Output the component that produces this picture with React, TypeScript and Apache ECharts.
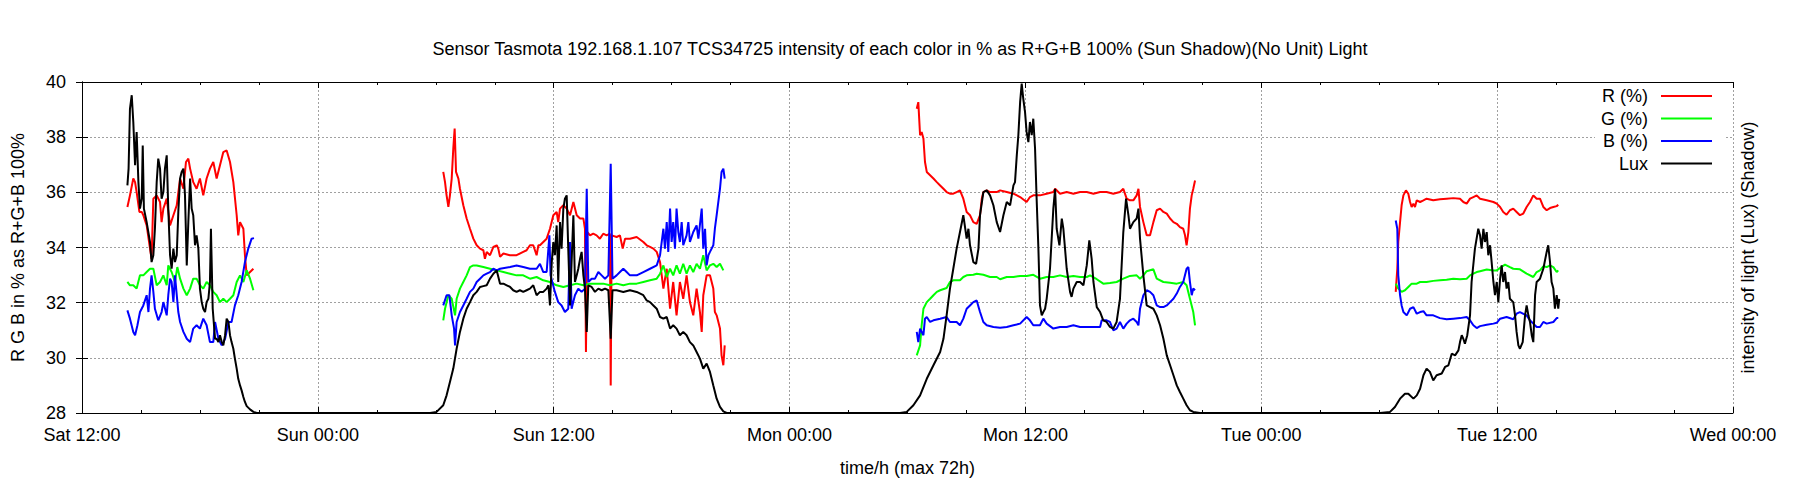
import React, { useEffect, useRef } from 'react'
import * as echarts from 'echarts'

type Pt = [number, number | null]

// x = hours since Sat 12:00, y = percent of R+G+B
const tickLabels = ['Sat 12:00', 'Sun 00:00', 'Sun 12:00', 'Mon 00:00', 'Mon 12:00', 'Tue 00:00', 'Tue 12:00', 'Wed 00:00']
const seriesNames = ['R (%)', 'G (%)', 'B (%)', 'Lux']

const redSat: Pt[] = [
    [2.31, 35.47], [2.44, 35.89], [2.61, 36.5], [2.7, 36.37], [2.78, 36.01], [2.92, 35.29], [3.04, 35.29], [3.12, 35.17],
    [3.29, 34.8], [3.46, 33.96], [3.54, 33.59], [3.63, 35.77], [3.8, 35.89], [3.97, 35.65], [4.05, 34.92], [4.14, 35.41],
    [4.31, 35.77], [4.48, 34.8], [4.65, 35.17], [4.82, 35.53], [4.99, 36.5], [5.16, 36.13], [5.29, 37.1], [5.41, 37.22],
    [5.5, 36.86], [5.66, 36.37], [5.83, 36.13], [6.0, 36.5], [6.17, 35.89], [6.34, 36.5], [6.51, 36.86], [6.68, 37.1],
    [6.85, 36.5], [7.02, 36.98], [7.19, 37.46], [7.36, 37.52], [7.53, 37.1], [7.7, 36.37], [7.87, 35.17], [7.95, 34.44],
    [8.04, 34.92], [8.21, 34.68], [8.29, 33.72], [8.38, 32.99], [8.55, 33.11], [8.72, 33.23],
]
const greenSat: Pt[] = [
    [2.31, 32.75], [2.44, 32.63], [2.61, 32.63], [2.78, 32.51], [2.95, 32.99], [3.12, 32.99], [3.29, 33.11], [3.46, 33.23],
    [3.63, 33.23], [3.8, 32.63], [3.97, 32.75], [4.14, 32.99], [4.31, 32.63], [4.39, 33.35], [4.56, 33.11], [4.73, 32.75],
    [4.85, 33.29], [4.99, 32.87], [5.16, 32.51], [5.33, 32.27], [5.5, 32.51], [5.66, 32.87], [5.83, 32.87], [6.0, 32.63],
    [6.17, 32.51], [6.34, 32.75], [6.51, 32.63], [6.68, 32.39], [6.85, 32.27], [7.02, 32.02], [7.19, 32.14], [7.36, 32.02],
    [7.53, 32.14], [7.7, 32.27], [7.87, 32.75], [8.04, 32.99], [8.21, 32.75], [8.38, 33.17], [8.55, 32.87], [8.72, 32.45],
]
const blueSat: Pt[] = [
    [2.31, 31.72], [2.44, 31.42], [2.61, 30.94], [2.7, 30.82], [2.82, 31.18], [2.95, 31.66], [3.12, 31.9], [3.29, 32.27],
    [3.38, 31.66], [3.46, 32.51], [3.54, 32.99], [3.63, 32.39], [3.71, 31.78], [3.88, 31.36], [4.05, 31.66], [4.14, 32.02],
    [4.31, 31.54], [4.39, 32.27], [4.48, 32.87], [4.56, 32.75], [4.65, 32.02], [4.73, 32.99], [4.9, 31.66], [4.99, 31.3],
    [5.16, 30.94], [5.33, 30.69], [5.5, 30.57], [5.66, 31.06], [5.83, 31.18], [6.0, 31.06], [6.17, 31.42], [6.34, 31.18],
    [6.51, 30.57], [6.68, 30.57], [6.77, 31.3], [6.94, 30.69], [7.11, 30.45], [7.28, 30.69], [7.45, 31.3], [7.61, 31.3],
    [7.78, 31.9], [7.95, 32.27], [8.12, 32.75], [8.29, 33.47], [8.46, 33.96], [8.63, 34.32], [8.75, 34.34],
]

const redSun: Pt[] = [
    [18.38, 36.74], [18.47, 36.37], [18.55, 35.89], [18.64, 35.47], [18.72, 35.89], [18.81, 36.5], [18.89, 37.58], [18.96, 38.31],
    [19.03, 36.74], [19.15, 36.5], [19.23, 36.13], [19.4, 35.53], [19.57, 35.05], [19.74, 34.68], [19.91, 34.32], [20.08, 34.08],
    [20.25, 33.96], [20.42, 33.9], [20.5, 33.59], [20.59, 33.84], [20.76, 33.72], [20.93, 34.02], [21.1, 34.08], [21.18, 33.96],
    [21.27, 33.66], [21.44, 33.78], [21.77, 33.72], [22.11, 33.72], [22.45, 33.84], [22.62, 33.9], [22.79, 34.08], [22.96, 34.08],
    [23.13, 33.72], [23.22, 34.08], [23.3, 34.08], [23.47, 34.2], [23.64, 34.32], [23.81, 34.68], [23.98, 35.17], [24.15, 35.29],
    [24.23, 34.92], [24.32, 35.41], [24.49, 35.53], [24.66, 35.41], [24.83, 35.17], [25.0, 35.65], [25.17, 35.17], [25.34, 35.05],
    [25.51, 35.05], [25.59, 34.68], [25.64, 30.21], [25.71, 34.56], [25.85, 34.44], [26.01, 34.5], [26.18, 34.44], [26.35, 34.32],
    [26.52, 34.5], [26.69, 34.44], [26.86, 34.5], [26.9, 29.0], [26.95, 34.44], [27.2, 34.38], [27.37, 34.44], [27.51, 33.96],
    [27.63, 34.32], [27.88, 34.32], [28.22, 34.38], [28.56, 34.2], [28.73, 34.08], [28.9, 34.02], [29.07, 33.96], [29.24, 33.84],
    [29.41, 33.47], [29.58, 32.51], [29.75, 33.23], [29.92, 31.78], [30.08, 32.75], [30.25, 31.54], [30.42, 32.75], [30.59, 32.14],
    [30.76, 32.99], [30.93, 32.02], [31.1, 31.54], [31.27, 32.51], [31.44, 31.66], [31.53, 30.94], [31.61, 32.27], [31.78, 32.99],
    [31.95, 32.99], [32.12, 32.51], [32.2, 31.66], [32.29, 31.54], [32.46, 31.06], [32.54, 30.09], [32.63, 29.73], [32.7, 30.45],
]
const greenSun: Pt[] = [
    [18.38, 31.36], [18.47, 31.78], [18.64, 32.27], [18.81, 32.14], [18.98, 31.54], [19.06, 32.14], [19.23, 32.51], [19.4, 32.75],
    [19.57, 32.99], [19.74, 33.29], [19.91, 33.35], [20.08, 33.35], [20.42, 33.29], [20.76, 33.23], [21.1, 33.17], [21.44, 33.11],
    [21.78, 33.05], [22.11, 32.99], [22.45, 32.99], [22.79, 32.87], [23.13, 32.93], [23.47, 32.81], [23.81, 32.75], [24.15, 32.63],
    [24.49, 32.57], [24.83, 32.63], [25.17, 32.69], [25.51, 32.63], [25.85, 32.69], [26.18, 32.69], [26.52, 32.69], [26.86, 32.63],
    [27.2, 32.69], [27.54, 32.63], [27.88, 32.69], [28.22, 32.69], [28.56, 32.75], [28.9, 32.81], [29.24, 32.87], [29.41, 33.05],
    [29.58, 33.35], [29.75, 32.93], [29.92, 33.23], [30.08, 32.99], [30.25, 33.35], [30.42, 33.05], [30.59, 33.41], [30.76, 33.05],
    [30.93, 33.35], [31.1, 33.11], [31.27, 33.41], [31.44, 33.23], [31.61, 33.72], [31.78, 33.17], [31.95, 33.35], [32.12, 33.41],
    [32.29, 33.29], [32.46, 33.41], [32.63, 33.17],
]
const blueSun: Pt[] = [
    [18.38, 31.9], [18.55, 32.27], [18.69, 32.27], [18.81, 31.54], [18.93, 31.06], [18.98, 30.45], [19.06, 31.3], [19.23, 31.66],
    [19.4, 31.9], [19.57, 32.14], [19.74, 32.39], [19.91, 32.51], [20.08, 32.75], [20.25, 32.87], [20.42, 32.99], [20.59, 33.05],
    [20.76, 33.11], [20.93, 33.23], [21.1, 33.17], [21.27, 33.23], [21.78, 33.29], [22.11, 33.35], [22.45, 33.29], [22.79, 33.23],
    [23.13, 33.23], [23.3, 33.41], [23.47, 33.11], [23.64, 33.11], [23.78, 34.44], [23.84, 32.99], [24.06, 32.39], [24.23, 32.02],
    [24.4, 31.9], [24.57, 31.66], [24.74, 31.78], [24.83, 34.2], [24.91, 31.78], [25.08, 32.27], [25.25, 32.51], [25.42, 32.39],
    [25.59, 32.51], [25.68, 36.13], [25.76, 32.75], [25.93, 32.87], [26.1, 32.87], [26.27, 33.11], [26.44, 32.99], [26.61, 32.87],
    [26.78, 32.99], [26.9, 37.04], [26.99, 32.87], [27.2, 32.99], [27.37, 33.11], [27.54, 33.23], [27.71, 33.11], [27.88, 32.99],
    [28.22, 32.99], [28.56, 33.11], [28.9, 33.23], [29.24, 33.35], [29.41, 33.72], [29.58, 34.68], [29.66, 33.96], [29.75, 34.92],
    [29.83, 33.84], [29.92, 35.41], [30.0, 34.2], [30.08, 34.92], [30.17, 33.96], [30.25, 35.41], [30.34, 34.56], [30.42, 34.2],
    [30.51, 34.92], [30.59, 34.08], [30.76, 34.44], [30.85, 34.92], [30.93, 34.2], [31.1, 34.56], [31.27, 34.8], [31.36, 34.32],
    [31.53, 35.41], [31.61, 33.96], [31.7, 34.68], [31.78, 33.35], [31.87, 33.72], [31.95, 33.84], [32.12, 34.08], [32.2, 34.68],
    [32.29, 35.17], [32.46, 36.13], [32.54, 36.74], [32.63, 36.86], [32.7, 36.5],
]

const redMon: Pt[] = [
    [42.47, 39.03], [42.55, 39.27], [42.64, 38.07], [42.72, 38.19], [42.81, 37.95], [42.89, 37.1], [42.98, 36.74], [43.15, 36.62],
    [43.32, 36.5], [43.49, 36.37], [43.66, 36.25], [43.83, 36.13], [43.99, 36.01], [44.16, 35.95], [44.33, 35.95], [44.5, 36.01],
    [44.67, 36.07], [44.84, 35.77], [45.01, 35.29], [45.18, 35.17], [45.35, 34.92], [45.52, 34.86], [45.69, 35.17], [45.78, 35.77],
    [45.86, 36.01], [46.03, 36.07], [46.2, 36.01], [46.54, 36.01], [46.71, 36.07], [47.05, 36.01], [47.39, 35.95], [47.73, 35.83],
    [48.06, 35.65], [48.23, 35.83], [48.4, 35.89], [48.74, 35.89], [49.08, 35.95], [49.42, 36.01], [49.51, 36.13], [49.76, 35.95],
    [50.1, 36.01], [50.44, 35.95], [50.78, 36.01], [51.12, 36.01], [51.46, 35.95], [51.8, 36.01], [52.13, 36.01], [52.47, 35.95],
    [52.81, 36.01], [52.98, 36.13], [53.15, 35.77], [53.32, 35.71], [53.49, 35.71], [53.66, 35.89], [53.75, 36.13], [53.83, 35.47],
    [54.0, 34.92], [54.17, 34.44], [54.34, 34.44], [54.51, 34.92], [54.68, 35.35], [54.85, 35.41], [55.02, 35.29], [55.19, 35.23],
    [55.36, 35.05], [55.53, 34.92], [55.7, 34.86], [55.86, 34.74], [56.03, 34.68], [56.12, 34.44], [56.2, 34.08], [56.29, 34.56],
    [56.37, 35.41], [56.46, 35.89], [56.54, 36.13], [56.63, 36.43],
]
const greenMon: Pt[] = [
    [42.47, 30.09], [42.64, 30.45], [42.72, 31.18], [42.81, 31.78], [42.98, 32.02], [43.15, 32.14], [43.32, 32.27], [43.49, 32.39],
    [43.66, 32.45], [43.99, 32.53], [44.16, 32.75], [44.33, 32.81], [44.67, 32.81], [44.84, 32.93], [45.01, 32.99], [45.35, 33.01],
    [45.52, 33.05], [45.86, 33.01], [46.2, 32.93], [46.54, 32.93], [46.71, 32.85], [47.05, 32.93], [47.39, 32.93], [47.73, 32.97],
    [48.06, 32.97], [48.4, 33.01], [48.74, 32.87], [49.08, 32.93], [49.42, 32.93], [49.76, 32.99], [50.1, 32.93], [50.44, 32.97],
    [50.78, 32.93], [51.12, 32.93], [51.29, 32.99], [51.63, 32.85], [51.96, 32.69], [52.3, 32.71], [52.64, 32.75], [52.98, 32.87],
    [53.32, 32.97], [53.66, 32.99], [53.83, 32.87], [54.0, 32.99], [54.17, 33.14], [54.51, 33.21], [54.68, 32.87], [55.02, 32.75],
    [55.36, 32.72], [55.7, 32.69], [56.03, 32.75], [56.2, 32.63], [56.37, 32.14], [56.54, 31.66], [56.63, 31.18],
]
const blueMon: Pt[] = [
    [42.47, 30.94], [42.55, 30.57], [42.64, 31.06], [42.81, 30.82], [42.89, 31.42], [42.98, 31.48], [43.15, 31.3], [43.32, 31.36],
    [43.66, 31.42], [43.99, 31.48], [44.16, 31.3], [44.5, 31.3], [44.67, 31.18], [44.84, 31.42], [45.01, 31.78], [45.18, 31.9],
    [45.35, 32.02], [45.52, 32.08], [45.69, 31.66], [45.86, 31.3], [46.03, 31.18], [46.37, 31.12], [46.71, 31.09], [47.05, 31.12],
    [47.39, 31.18], [47.73, 31.24], [48.06, 31.48], [48.23, 31.36], [48.4, 31.18], [48.74, 31.18], [48.91, 31.42], [49.08, 31.24],
    [49.42, 31.06], [49.76, 31.12], [50.1, 31.12], [50.44, 31.18], [50.78, 31.12], [51.12, 31.12], [51.46, 31.12], [51.8, 31.12],
    [51.88, 31.36], [52.13, 31.36], [52.3, 31.3], [52.47, 31.0], [52.64, 31.06], [52.81, 31.3], [52.98, 31.06], [53.15, 31.24],
    [53.32, 31.36], [53.49, 31.42], [53.66, 31.3], [53.75, 31.18], [53.83, 31.78], [54.0, 32.27], [54.17, 32.45], [54.34, 32.39],
    [54.51, 32.27], [54.68, 31.9], [54.85, 31.84], [55.02, 31.84], [55.19, 31.9], [55.36, 32.02], [55.53, 32.14], [55.7, 32.33],
    [55.86, 32.57], [56.03, 32.75], [56.2, 33.23], [56.29, 33.29], [56.37, 32.75], [56.46, 32.27], [56.54, 32.51], [56.63, 32.45],
]

const redTue: Pt[] = [
    [66.84, 32.39], [66.92, 33.23], [66.97, 34.2], [67.06, 34.92], [67.14, 35.53], [67.23, 35.89], [67.36, 36.07], [67.48, 35.95],
    [67.57, 35.65], [67.65, 35.47], [67.74, 35.59], [67.82, 35.47], [67.91, 35.71], [68.08, 35.65], [68.25, 35.71], [68.41, 35.77],
    [68.75, 35.71], [69.09, 35.75], [69.43, 35.77], [69.77, 35.79], [70.11, 35.77], [70.28, 35.65], [70.45, 35.59], [70.62, 35.77],
    [70.79, 35.83], [70.96, 35.89], [71.13, 35.77], [71.47, 35.71], [71.81, 35.65], [71.98, 35.59], [72.15, 35.47], [72.31, 35.29],
    [72.48, 35.19], [72.65, 35.35], [72.82, 35.41], [72.99, 35.29], [73.16, 35.17], [73.33, 35.23], [73.5, 35.47], [73.67, 35.65],
    [73.84, 35.89], [74.01, 35.77], [74.18, 35.77], [74.35, 35.47], [74.52, 35.35], [74.69, 35.43], [74.86, 35.47], [75.03, 35.5],
    [75.11, 35.55],
]
const greenTue: Pt[] = [
    [66.84, 32.69], [66.97, 32.51], [67.14, 32.39], [67.31, 32.45], [67.48, 32.57], [67.65, 32.69], [67.91, 32.69], [68.08, 32.75],
    [68.41, 32.75], [68.75, 32.79], [69.09, 32.81], [69.43, 32.83], [69.77, 32.87], [70.11, 32.85], [70.45, 32.87], [70.62, 32.99],
    [70.79, 33.05], [70.96, 33.11], [71.13, 33.14], [71.47, 33.2], [71.81, 33.17], [71.98, 33.17], [72.15, 33.26], [72.4, 33.38],
    [72.65, 33.29], [72.82, 33.23], [73.16, 33.21], [73.5, 33.05], [73.84, 32.93], [74.01, 33.11], [74.18, 33.17], [74.35, 33.32],
    [74.52, 33.29], [74.69, 33.35], [74.86, 33.29], [75.03, 33.11], [75.11, 33.17],
]
const blueTue: Pt[] = [
    [66.84, 34.98], [66.92, 34.68], [66.97, 32.99], [67.06, 32.27], [67.14, 31.9], [67.23, 31.66], [67.4, 31.54], [67.57, 31.78],
    [67.74, 31.84], [67.91, 31.6], [68.08, 31.66], [68.25, 31.69], [68.41, 31.54], [68.75, 31.54], [69.09, 31.44], [69.43, 31.4],
    [69.77, 31.42], [70.11, 31.44], [70.45, 31.48], [70.62, 31.36], [70.79, 31.18], [70.96, 31.08], [71.13, 31.15], [71.47, 31.2],
    [71.81, 31.24], [71.98, 31.27], [72.15, 31.42], [72.48, 31.48], [72.82, 31.4], [72.99, 31.6], [73.16, 31.66], [73.5, 31.54],
    [73.67, 31.36], [73.84, 31.24], [74.01, 31.12], [74.18, 31.12], [74.35, 31.3], [74.52, 31.24], [74.86, 31.3], [75.03, 31.44],
    [75.11, 31.44],
]

// light intensity (Lux, shadow side), right axis
const luxSat: Pt[] = [
    [2.31, 825], [2.37, 886], [2.44, 1103], [2.53, 1152], [2.61, 1055], [2.7, 898], [2.78, 1019], [2.87, 837], [2.95, 741],
    [3.04, 777], [3.09, 970], [3.15, 741], [3.29, 692], [3.46, 620], [3.54, 547], [3.63, 572], [3.71, 668], [3.8, 837],
    [3.88, 922], [3.97, 886], [4.05, 777], [4.14, 801], [4.22, 886], [4.31, 934], [4.39, 741], [4.48, 572], [4.56, 523],
    [4.65, 596], [4.73, 547], [4.82, 572], [4.9, 729], [4.99, 850], [5.07, 874], [5.16, 886], [5.24, 789], [5.33, 535],
    [5.41, 692], [5.5, 850], [5.58, 741], [5.66, 717], [5.75, 608], [5.83, 644], [5.92, 596], [6.0, 451], [6.09, 402],
    [6.17, 378], [6.26, 366], [6.34, 402], [6.43, 414], [6.51, 475], [6.56, 668], [6.65, 378], [6.77, 269], [6.85, 269],
    [6.94, 257], [7.02, 282], [7.11, 257], [7.19, 245], [7.28, 282], [7.36, 342], [7.45, 330], [7.53, 282], [7.61, 257],
    [7.7, 233], [7.78, 197], [7.87, 161], [7.95, 124], [8.04, 100], [8.12, 82], [8.21, 58], [8.29, 40], [8.38, 25],
    [8.55, 13], [8.72, 4], [8.89, 0],
]
const luxSun: Pt[] = [
    [17.71, 0], [18.04, 4], [18.38, 28], [18.55, 64], [18.72, 112], [18.89, 161], [19.06, 233], [19.23, 294], [19.4, 342],
    [19.57, 378], [19.74, 402], [19.91, 427], [20.08, 439], [20.25, 457], [20.42, 460], [20.59, 463], [20.76, 487], [20.93, 505],
    [21.1, 517], [21.27, 469], [21.44, 469], [21.61, 463], [21.78, 457], [21.94, 445], [22.11, 439], [22.28, 445], [22.45, 439],
    [22.62, 445], [22.79, 451], [22.96, 463], [23.13, 427], [23.3, 439], [23.47, 439], [23.64, 451], [23.73, 463], [23.81, 390],
    [23.9, 547], [23.98, 620], [24.06, 572], [24.15, 680], [24.23, 475], [24.32, 692], [24.4, 596], [24.49, 741], [24.57, 777],
    [24.66, 789], [24.74, 596], [24.83, 390], [24.91, 547], [25.0, 717], [25.08, 475], [25.17, 499], [25.25, 523], [25.34, 559],
    [25.42, 584], [25.51, 499], [25.59, 451], [25.68, 294], [25.76, 463], [25.93, 457], [26.1, 439], [26.27, 451], [26.44, 445],
    [26.61, 451], [26.78, 445], [26.9, 269], [26.99, 445], [27.2, 445], [27.54, 439], [27.88, 445], [28.22, 439], [28.56, 427],
    [28.73, 408], [28.9, 402], [29.07, 390], [29.24, 378], [29.41, 348], [29.58, 342], [29.75, 348], [29.92, 306], [30.08, 318],
    [30.25, 306], [30.42, 282], [30.59, 294], [30.76, 282], [30.93, 257], [31.1, 245], [31.27, 221], [31.44, 197], [31.61, 161],
    [31.78, 179], [31.95, 149], [32.12, 100], [32.29, 52], [32.46, 22], [32.63, 6], [32.8, 0],
]
const luxMon: Pt[] = [
    [41.62, 0], [41.96, 4], [42.3, 28], [42.64, 64], [42.98, 124], [43.32, 173], [43.66, 221], [43.83, 269], [43.99, 354],
    [44.16, 451], [44.33, 523], [44.5, 596], [44.67, 656], [44.84, 717], [45.01, 632], [45.1, 668], [45.18, 608], [45.35, 547],
    [45.49, 541], [45.61, 596], [45.69, 717], [45.86, 801], [46.03, 807], [46.2, 789], [46.37, 753], [46.54, 692], [46.71, 656],
    [46.88, 717], [47.05, 765], [47.22, 753], [47.39, 825], [47.47, 837], [47.56, 934], [47.64, 1007], [47.73, 1127], [47.81, 1194],
    [47.89, 1140], [47.98, 1091], [48.06, 1019], [48.15, 982], [48.23, 1055], [48.32, 1007], [48.4, 1067], [48.49, 958], [48.57, 777],
    [48.66, 596], [48.74, 390], [48.83, 354], [48.91, 366], [49.0, 378], [49.08, 414], [49.25, 523], [49.42, 741], [49.51, 813],
    [49.59, 668], [49.73, 608], [49.85, 705], [49.93, 668], [50.1, 523], [50.27, 439], [50.35, 421], [50.44, 451], [50.61, 475],
    [50.78, 475], [50.95, 463], [51.12, 535], [51.25, 626], [51.37, 559], [51.46, 475], [51.63, 384], [51.8, 366], [51.96, 336],
    [52.13, 330], [52.3, 312], [52.47, 306], [52.64, 330], [52.81, 414], [52.98, 656], [53.12, 777], [53.24, 717], [53.32, 668],
    [53.49, 692], [53.66, 705], [53.75, 741], [53.83, 632], [54.0, 499], [54.17, 390], [54.34, 384], [54.51, 378], [54.68, 354],
    [54.85, 318], [55.02, 269], [55.19, 209], [55.36, 173], [55.53, 137], [55.7, 100], [55.86, 76], [56.03, 52], [56.2, 28],
    [56.37, 10], [56.54, 4], [56.88, 0],
]
const luxTue: Pt[] = [
    [66.04, 0], [66.55, 4], [66.8, 22], [67.06, 52], [67.31, 70], [67.48, 70], [67.74, 52], [67.91, 64], [68.08, 88],
    [68.25, 137], [68.41, 161], [68.58, 149], [68.75, 118], [68.92, 137], [69.18, 143], [69.35, 167], [69.52, 173], [69.69, 215],
    [69.86, 209], [70.03, 227], [70.11, 257], [70.2, 282], [70.28, 269], [70.36, 251], [70.48, 282], [70.62, 354], [70.7, 475],
    [70.87, 596], [71.04, 668], [71.13, 644], [71.21, 596], [71.3, 668], [71.38, 620], [71.47, 656], [71.55, 572], [71.64, 608],
    [71.72, 547], [71.81, 475], [71.89, 427], [71.98, 475], [72.06, 402], [72.15, 487], [72.23, 535], [72.31, 475], [72.4, 511],
    [72.48, 451], [72.57, 475], [72.65, 414], [72.82, 402], [72.91, 354], [72.99, 294], [73.08, 245], [73.16, 233], [73.3, 257],
    [73.42, 354], [73.5, 390], [73.59, 354], [73.67, 330], [73.76, 282], [73.84, 257], [73.93, 427], [74.01, 475], [74.18, 487],
    [74.35, 523], [74.52, 584], [74.6, 608], [74.69, 547], [74.77, 475], [74.86, 451], [74.94, 378], [75.03, 427], [75.11, 378],
    [75.16, 414],
]

const FONT = '"Liberation Sans", Arial, Helvetica, sans-serif'

// break the line between the days that have no RGB readings
const withGaps = (days: Pt[][]): Pt[] =>
    days.flatMap((d, i) => (i === 0 ? d : [[d[0][0] - 0.05, null] as Pt, ...d]))

const App: React.FC = () => {
    const chartRef = useRef<HTMLDivElement>(null)

    useEffect(() => {
        document.body.style.margin = '0'
        const chart = echarts.init(chartRef.current, undefined, { renderer: 'svg' })

        const tickStyle = { lineStyle: { color: '#000', width: 1 } }
        const lineSeries = (name: string, color: string, data: Pt[], yAxisIndex = 0) => ({
            name,
            type: 'line',
            yAxisIndex,
            data,
            color,
            showSymbol: false,
            symbol: 'none',
            lineStyle: { color, width: 2 },
            emphasis: { disabled: true },
        })

        const option = {
            animation: false,
            title: {
                text: 'Sensor Tasmota 192.168.1.107 TCS34725 intensity of each color in % as R+G+B 100% (Sun Shadow)(No Unit) Light',
                left: 'center',
                top: 40,
                padding: 0,
                textStyle: { fontSize: 18, fontWeight: 'normal', color: '#000', fontFamily: FONT },
            },
            legend: {
                data: seriesNames,
                orient: 'vertical',
                right: 76,
                top: 83,
                align: 'right',
                icon: 'rect',
                itemWidth: 51,
                itemHeight: 2,
                itemGap: 4.5,
                selectedMode: false,
                backgroundColor: '#fff',
                padding: [4, 12, 4, 6],
                formatter: '{t|{name}}',
                textStyle: {
                    color: '#000',
                    rich: { t: { fontSize: 18, lineHeight: 20, fontFamily: FONT, color: '#000', padding: [0, 8, 0, 0] } },
                },
            },
            grid: { left: 82, right: 67, top: 82, bottom: 87 },
            xAxis: [
                {
                    type: 'value',
                    min: 0,
                    max: 84,
                    interval: 12,
                    name: 'time/h (max 72h)',
                    nameLocation: 'middle',
                    nameGap: 46,
                    nameTextStyle: { fontSize: 18, color: '#000', fontFamily: FONT },
                    axisLine: { show: true, lineStyle: { color: '#000', width: 1 } },
                    axisTick: { show: true, inside: true, length: 6, ...tickStyle },
                    minorTick: { show: true, splitNumber: 4, length: 3, ...tickStyle },
                    axisLabel: {
                        margin: 13,
                        fontSize: 18,
                        color: '#000',
                        fontFamily: FONT,
                        formatter: (v: number) => tickLabels[Math.round(v / 12)] ?? '',
                    },
                    splitLine: { show: true, lineStyle: { color: '#a0a0a0', type: [2, 2], width: 1 } },
                },
                {
                    type: 'value',
                    position: 'top',
                    min: 0,
                    max: 84,
                    interval: 12,
                    axisLine: { show: true, lineStyle: { color: '#000', width: 1 } },
                    axisTick: { show: true, inside: true, length: 6, ...tickStyle },
                    minorTick: { show: true, splitNumber: 4, length: 3, ...tickStyle },
                    axisLabel: { show: false },
                    splitLine: { show: false },
                },
            ],
            yAxis: [
                {
                    type: 'value',
                    min: 28,
                    max: 40,
                    interval: 2,
                    name: 'R G B in % as R+G+B 100%',
                    nameLocation: 'middle',
                    nameGap: 55,
                    nameRotate: 90,
                    nameTextStyle: { fontSize: 18, color: '#000', fontFamily: FONT },
                    axisLine: { show: true, lineStyle: { color: '#000', width: 1 } },
                    axisTick: { show: true, inside: true, length: 6, ...tickStyle },
                    axisLabel: { margin: 16, fontSize: 18, color: '#000', fontFamily: FONT },
                    splitLine: { show: true, lineStyle: { color: '#a0a0a0', type: [2, 2], width: 1 } },
                },
                {
                    type: 'value',
                    position: 'right',
                    min: 0,
                    max: 1200,
                    interval: 200,
                    name: 'intensity of light (Lux) (Shadow)',
                    nameLocation: 'middle',
                    nameGap: 6,
                    nameRotate: 90,
                    nameTextStyle: { fontSize: 18, color: '#000', fontFamily: FONT },
                    axisLine: { show: true, lineStyle: { color: '#000', width: 1 } },
                    axisTick: { show: true, inside: true, length: 6, ...tickStyle },
                    axisLabel: { show: false },
                    splitLine: { show: false },
                },
            ],
            series: [
                lineSeries('R (%)', '#ff0000', withGaps([redSat, redSun, redMon, redTue])),
                lineSeries('G (%)', '#00ff00', withGaps([greenSat, greenSun, greenMon, greenTue])),
                lineSeries('B (%)', '#0000ff', withGaps([blueSat, blueSun, blueMon, blueTue])),
                lineSeries('Lux', '#000000', [...luxSat, ...luxSun, ...luxMon, ...luxTue], 1),
            ],
        }

        chart.setOption(option)

        const handleResize = () => {
            chart.resize()
        }
        window.addEventListener('resize', handleResize)

        return () => {
            window.removeEventListener('resize', handleResize)
            chart.dispose()
        }
    }, [])

    return <div ref={chartRef} style={{ width: '1800px', height: '500px' }} />
}

export default App
